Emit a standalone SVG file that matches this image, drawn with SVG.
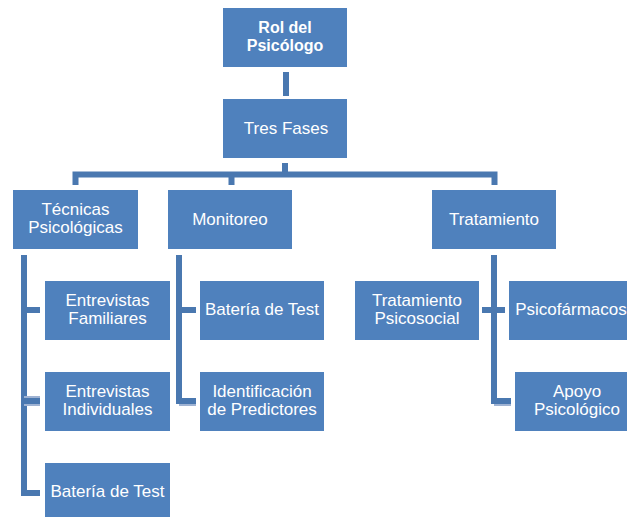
<svg xmlns="http://www.w3.org/2000/svg" width="627" height="517" viewBox="0 0 627 517">
<style>
.box{fill:#4F81BD}
.t{fill:#fff;font-family:"Liberation Sans",Arial,sans-serif;font-size:17px;text-anchor:middle}
.b{font-weight:bold;font-size:16px}
.c{fill:none;stroke:#4A78B0;stroke-width:6}
.cl{fill:none;stroke:#9FB3D3;stroke-width:2}
</style>
<rect width="627" height="517" fill="#fff"/>
<g id="connectors">
<path class="c" d="M286,72V96"/>
<path class="c" d="M285,163V174.5M75.5,185V174.5H494.5V185M231.5,174.5V185"/>
<path class="c" d="M24,255V493H40M24,310H40M24,401H40"/>
<path class="c" d="M179,255V401H196M179,310H196"/>
<path class="c" d="M494,255V401H511M482,310H505"/>
<path class="cl" d="M24,397H40M24,405H40M179,405H196M494,405H511"/>
</g>
<g id="n-rol"><rect class="box" x="223" y="8" width="124" height="59"/><text class="t b" x="285" y="33">Rol del</text><text class="t b" x="285" y="51">Psicólogo</text></g>
<g id="n-tres"><rect class="box" x="223" y="99" width="124" height="59"/><text class="t" x="286" y="134">Tres Fases</text></g>
<g id="n-tecnicas"><rect class="box" x="13" y="190" width="125" height="59"/><text class="t" x="75.5" y="215">Técnicas</text><text class="t" x="75.5" y="233">Psicológicas</text></g>
<g id="n-monitoreo"><rect class="box" x="168" y="190" width="124" height="59"/><text class="t" x="230" y="225">Monitoreo</text></g>
<g id="n-tratamiento"><rect class="box" x="432" y="190" width="124" height="59"/><text class="t" x="494" y="225">Tratamiento</text></g>
<g id="n-ent-fam"><rect class="box" x="45" y="281" width="125" height="59"/><text class="t" x="107.5" y="306">Entrevistas</text><text class="t" x="107.5" y="324">Familiares</text></g>
<g id="n-ent-ind"><rect class="box" x="45" y="372" width="125" height="59"/><text class="t" x="107.5" y="397">Entrevistas</text><text class="t" x="107.5" y="415">Individuales</text></g>
<g id="n-bat1"><rect class="box" x="45" y="463" width="125" height="59"/><text class="t" x="107.5" y="497">Batería de Test</text></g>
<g id="n-bat2"><rect class="box" x="200" y="281" width="124" height="59"/><text class="t" x="262" y="315">Batería de Test</text></g>
<g id="n-ident"><rect class="box" x="200" y="372" width="124" height="59"/><text class="t" x="262" y="397">Identificación</text><text class="t" x="262" y="415">de Predictores</text></g>
<g id="n-psicosocial"><rect class="box" x="355" y="281" width="124" height="59"/><text class="t" x="417" y="306">Tratamiento</text><text class="t" x="417" y="324">Psicosocial</text></g>
<g id="n-psicofarm"><rect class="box" x="509" y="281" width="124" height="59"/><text class="t" x="571" y="315">Psicofármacos</text></g>
<g id="n-apoyo"><rect class="box" x="515" y="372" width="124" height="59"/><text class="t" x="577" y="397">Apoyo</text><text class="t" x="577" y="415">Psicológico</text></g>
</svg>
